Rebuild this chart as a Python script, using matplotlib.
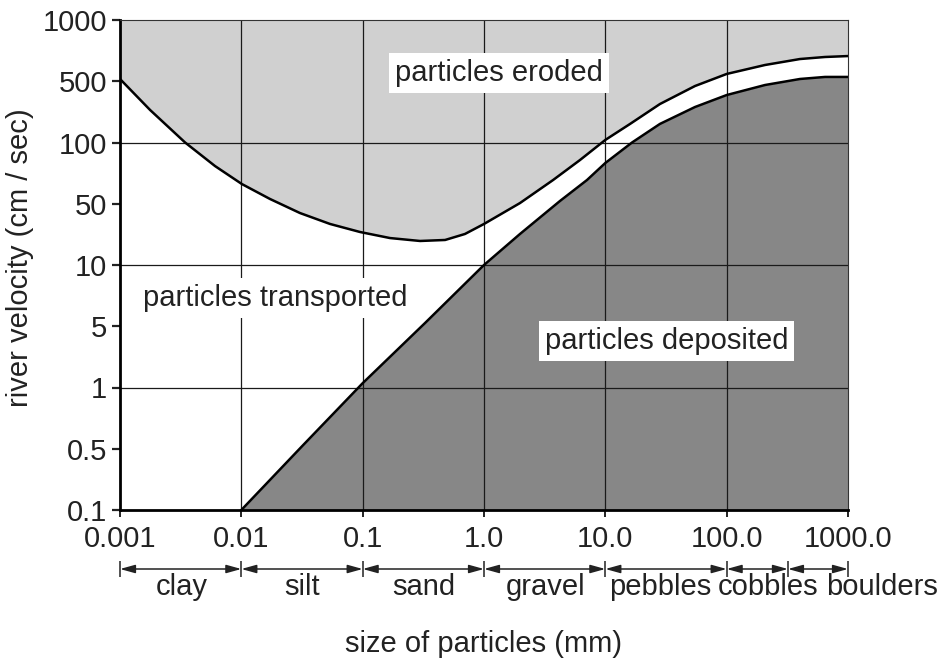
import numpy as np
import matplotlib
matplotlib.use('Agg')
import matplotlib.pyplot as plt
from matplotlib.ticker import NullLocator, FixedLocator
from matplotlib.transforms import blended_transform_factory

plt.rcParams['font.family'] = ['Liberation Sans', 'DejaVu Sans']

# Axis ticks (the y axis puts every tick at the same spacing)
x_ticks = [0.001, 0.01, 0.1, 1.0, 10.0, 100.0, 1000.0]
x_tick_labels = ['0.001', '0.01', '0.1', '1.0', '10.0', '100.0', '1000.0']
y_ticks = [0.1, 0.5, 1, 5, 10, 50, 100, 500, 1000]
y_tick_labels = ['0.1', '0.5', '1', '5', '10', '50', '100', '500', '1000']

# Erosion curve (upper line)
erode_size = [0.001, 0.00177, 0.00344, 0.00607, 0.0101, 0.0172, 0.0304, 0.0538,
              0.0951, 0.168, 0.297, 0.478, 0.697, 1.0, 1.98, 3.71, 6.18, 10.0,
              16.0, 28.2, 54.8, 100.0, 207.0, 402.0, 647.0, 1000.0]
erode_vel = [513, 235, 100, 76.6, 62.5, 52.8, 39.2, 29.4,
             23.8, 20.3, 18.8, 19.3, 22.6, 29.4, 50.4, 65.4, 82.0, 107,
             163, 275, 441, 543, 601, 643, 658, 665]

# Deposition curve (lower line)
depo_size = [0.01, 0.0322, 0.1, 0.327, 1.0, 1.98, 4.23, 7.06, 10.0, 16.6,
             28.2, 54.8, 100.0, 207.0, 402.0, 647.0, 1000.0]
depo_vel = [0.1, 0.52, 1.12, 5.19, 10, 22.6, 51.6, 65.4, 79.3, 100,
            163, 254, 348, 453, 513, 525, 525]

# Grain size classes
class_bounds = [0.001, 0.01, 0.1, 1.0, 10.0, 100.0, 320.0, 1000.0]
class_names = ['clay', 'silt', 'sand', 'gravel', 'pebbles', 'cobbles', 'boulders']
class_label_x = [0.00324, 0.0316, 0.321, 3.24, 28.3, 219.0, 1905.0]

grid_x = [0.01, 0.1, 1.0, 10.0, 100.0]
grid_y = [1, 10, 100]

light = '#d0d0d0'
dark = '#878787'
ink = '#222222'
fs = 21

log_ticks = np.log10(y_ticks)
tick_pos = np.arange(len(y_ticks), dtype=float)


def y_forward(v):
    v = np.clip(np.asarray(v, dtype=float), 1e-12, None)
    return np.interp(np.log10(v), log_ticks, tick_pos)


def y_inverse(p):
    return 10 ** np.interp(np.asarray(p, dtype=float), tick_pos, log_ticks)


fig = plt.figure(figsize=(9.44, 6.61), dpi=100)
ax = fig.add_axes([120 / 944, 1 - 510 / 661, 728 / 944, 490 / 661])

ax.set_xscale('log')
ax.set_yscale('function', functions=(y_forward, y_inverse))
ax.set_xlim(0.001, 1000)
ax.set_ylim(0.1, 1000)

# fills
ax.fill_between(erode_size, erode_vel, 1000, color=light, lw=0, zorder=1)
ax.fill_between(depo_size, 0.1, depo_vel, color=dark, lw=0, zorder=1)

# grid
for gx in grid_x:
    ax.axvline(gx, color='#1a1a1a', lw=0.9, zorder=2)
for gy in grid_y:
    ax.axhline(gy, color='#1a1a1a', lw=0.9, zorder=2)

# curves
ax.plot(erode_size, erode_vel, color='black', lw=1.8, zorder=3,
        solid_joinstyle='round')
ax.plot(depo_size, depo_vel, color='black', lw=1.8, zorder=3,
        solid_joinstyle='round')

# region labels
box = dict(boxstyle='square,pad=0.2', fc='white', ec='none')
ax.text(0.5206, 0.892, 'particles eroded', transform=ax.transAxes, ha='center',
        va='center', fontsize=fs, color=ink, bbox=box, zorder=4)
ax.text(0.213, 0.433, 'particles transported', transform=ax.transAxes, ha='center',
        va='center', fontsize=fs, color=ink, bbox=box, zorder=4)
ax.text(0.751, 0.345, 'particles deposited', transform=ax.transAxes, ha='center',
        va='center', fontsize=fs, color=ink, bbox=box, zorder=4)

# ticks
ax.xaxis.set_major_locator(FixedLocator(x_ticks))
ax.xaxis.set_minor_locator(NullLocator())
ax.set_xticklabels(x_tick_labels)
ax.yaxis.set_major_locator(FixedLocator(y_ticks))
ax.yaxis.set_minor_locator(NullLocator())
ax.set_yticklabels(y_tick_labels)
ax.tick_params(axis='y', direction='out', length=6, width=1.6, pad=3.5,
               labelsize=fs, colors=ink)
ax.tick_params(axis='x', direction='out', length=5, width=1.4, pad=6,
               labelsize=fs, colors=ink)

for side in ['left', 'bottom']:
    ax.spines[side].set_linewidth(2.0)
    ax.spines[side].set_color('black')
for side in ['top', 'right']:
    ax.spines[side].set_linewidth(0.8)
    ax.spines[side].set_color('#333333')
for sp in ax.spines.values():
    sp.set_zorder(5)

# grain size classes under the axis
trans = blended_transform_factory(ax.transData, ax.transAxes)
arrow_y = (510 - 569) / 490
for b0, b1 in zip(class_bounds[:-1], class_bounds[1:]):
    ax.annotate('', xy=(b1, arrow_y), xytext=(b0, arrow_y), xycoords=trans,
                textcoords=trans, annotation_clip=False,
                arrowprops=dict(arrowstyle='<|-|>,head_length=0.9,head_width=0.25',
                                mutation_scale=10, shrinkA=0, shrinkB=0,
                                lw=1.1, color=ink))
ax.plot(class_bounds, [arrow_y] * len(class_bounds), ls='none', marker='|',
        ms=11, mew=1.1, color=ink, transform=trans, clip_on=False)
label_y = (510 - 595) / 490
for name, lx in zip(class_names, class_label_x):
    ax.text(lx, label_y, name, transform=trans, ha='center', va='baseline',
            fontsize=fs, color=ink)

fig.text(484 / 944, 1 - 652 / 661, 'size of particles (mm)', ha='center',
         va='baseline', fontsize=fs, color=ink)
fig.text(20 / 944, 1 - 258 / 661, 'river velocity (cm / sec)', ha='center',
         va='center', rotation=90, fontsize=fs, color=ink)

fig.savefig('out.png', dpi=100)
